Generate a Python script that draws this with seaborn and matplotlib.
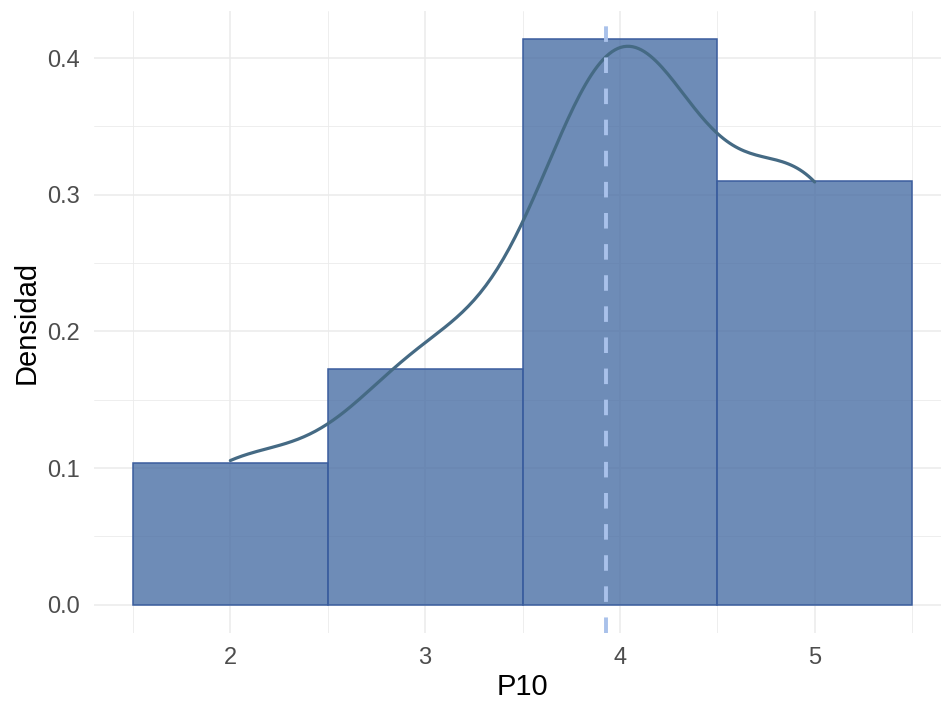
import numpy as np
import pandas as pd
import matplotlib
matplotlib.use('Agg')
import matplotlib.pyplot as plt
import seaborn as sns
from matplotlib.ticker import MultipleLocator

# --- Data (counts: density * n, n = 29) ---
p10_values = [2, 3, 4, 5]
p10_counts = [3, 5, 12, 9]
x_ticks = [2, 3, 4, 5]
y_ticks = [0.0, 0.1, 0.2, 0.3, 0.4]

df = pd.DataFrame({'P10': np.repeat(p10_values, p10_counts)})
n = len(df)
mean_p10 = df['P10'].mean()

sns.set_theme(style="white")
plt.rcParams['font.family'] = ['Liberation Sans', 'DejaVu Sans']

fig = plt.figure(figsize=(9.41, 7.10), dpi=100)
ax = fig.add_axes([94 / 941, 77 / 710, 857 / 941, 622 / 710])

# grid like ggplot theme_minimal
ax.set_axisbelow(True)
ax.xaxis.set_major_locator(MultipleLocator(1))
ax.xaxis.set_minor_locator(MultipleLocator(0.5))
ax.yaxis.set_major_locator(MultipleLocator(0.1))
ax.yaxis.set_minor_locator(MultipleLocator(0.05))
ax.grid(which='major', color='#ebebeb', linewidth=1.1)
ax.grid(which='minor', color='#ebebeb', linewidth=0.6)

sns.histplot(data=df, x='P10', stat='density', discrete=True,
             color='#4a6fa5', alpha=0.8, edgecolor='#3a5d9e',
             linewidth=1.1, ax=ax)

# R's bw.nrd0 equivalent: 0.9 * min(sd, IQR/1.34) * n^-0.2 (sd is the min here)
sns.kdeplot(data=df, x='P10', bw_method=0.9 * n ** -0.2, cut=0,
            color='#456a84', linewidth=2.3, ax=ax)

ax.axvline(mean_p10, color='#a9c1ea', linewidth=2.8, linestyle=(0, (4, 4)))

ax.set_xlim(1.3, 5.7)
ax.set_ylim(-0.0207, 0.4345)
ax.set_xticks(x_ticks)
ax.set_yticks(y_ticks)
ax.set_yticklabels([f"{v:.1f}" for v in y_ticks])
ax.tick_params(axis='both', which='both', length=0, labelsize=17, labelcolor='#4d4d4d')
ax.tick_params(axis='x', pad=10)
ax.tick_params(axis='y', pad=10)
for s in ax.spines.values():
    s.set_visible(False)

ax.set_xlabel('P10', fontsize=21, color='black', labelpad=3)
ax.set_ylabel('Densidad', fontsize=21, color='black', labelpad=5)

fig.savefig('out.png', dpi=100)
plt.close(fig)
